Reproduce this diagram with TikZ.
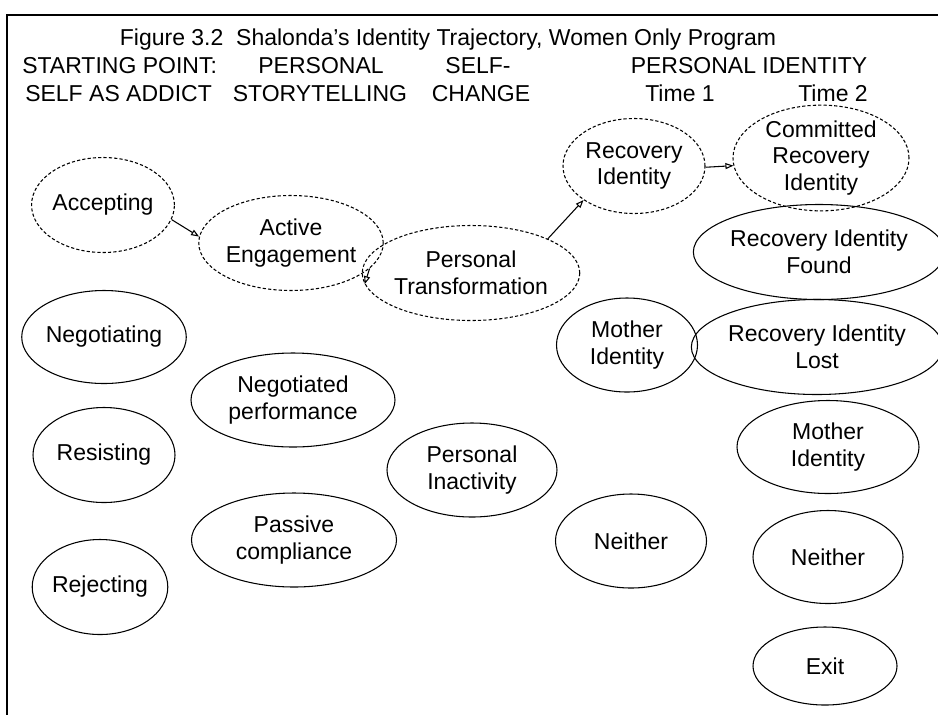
\documentclass[tikz,border=0pt]{standalone}
\usepackage{fontspec}
\setmainfont{Liberation Sans}
\usetikzlibrary{shapes.geometric,arrows.meta}

\begin{document}
\begin{tikzpicture}[x=0.75pt,y=-0.75pt,
  txt/.style={font=\fontsize{17.25}{20}\selectfont, inner sep=0pt},
  stage/.style={ellipse, draw, line width=0.8pt, txt, align=center,
                minimum width=#1*0.75pt},
  stage/.default=142,
  tall/.style={minimum height=#1*0.75pt},
  tall/.default=95,
  path/.style={stage=#1, tall, dash pattern=on 2.4pt off 1.6pt},
  link/.style={line width=0.8pt, -{Triangle[open,length=6pt,width=4.5pt]}},
  hdr/.style={txt, anchor=base}
]
\path[use as bounding box] (0,0) rectangle (938,715);

% frame
\draw[line width=1.1pt] (938,15) -- (7,15) -- (7,715);

% headings
\node[hdr] (title) at (448,45) {Figure 3.2\ \ Shalonda’s Identity Trajectory, Women Only Program};
\node[hdr, anchor=base west] (h1a) at (22,73) {STARTING POINT:};
\node[hdr, anchor=base west] (h1b) at (25,101) {SELF AS ADDICT};
\node[hdr] (h2a) at (321,73) {PERSONAL};
\node[hdr] (h2b) at (320,101) {STORYTELLING};
\node[hdr] (h3a) at (478,73) {SELF-};
\node[hdr] (h3b) at (481,101) {CHANGE};
\node[hdr] (h4) at (749,73) {PERSONAL IDENTITY};
\node[hdr] (t1) at (680,101) {Time 1};
\node[hdr] (t2) at (833,101) {Time 2};

% trajectory (dashed)
\node[path=142] (acc) at (103,205) {Accepting};
\node[path=175] (ae)  at (291,243) {Active\\Engagement};
\node[path=170] (pt)  at (471,273) {Personal\\Transformation};
\node[path=142] (ri)  at (634,166) {Recovery\\Identity};
\node[path=176] (cri) at (821,158) {Committed\\Recovery\\Identity};

% starting point
\node[stage=142, tall=93] (neg) at (104,337) {Negotiating};
\node[stage=142, tall] (res) at (104,455) {Resisting};
\node[stage=130, tall] (rej) at (100,587) {Rejecting};

% storytelling
\node[stage=204, tall=94] (np) at (293,400) {Negotiated\\performance};
\node[stage=205, tall=94] (pc) at (294,540) {Passive\\compliance};

% self-change
\node[stage=170, tall=94] (pi) at (472,470) {Personal\\Inactivity};

% identity, time 1
\node[stage=141, tall=94] (mi1) at (627,345) {Mother\\Identity};
\node[stage=151, tall=94] (n1)  at (631,541) {Neither};

% identity, time 2
\node[stage=206, tall] (rif) at (819,252) {Recovery Identity\\Found};
\node[stage=210, tall] (ril) at (817,347) {Recovery Identity\\Lost};
\node[stage=182, tall=93] (mi2) at (828,447) {Mother\\Identity};
\node[stage=150, tall=93] (n2)  at (828,557) {Neither};
\node[stage=144, tall=78] (ex)  at (825,666) {Exit};

% arrows
\draw[link] (acc.-12) -- (ae.176);
\draw[link] (ae.-18) -- (pt.186);
\draw[link] (pt.24) -- (ri.214);
\draw[link] (ri.-1) -- (cri.185);
\end{tikzpicture}
\end{document}
